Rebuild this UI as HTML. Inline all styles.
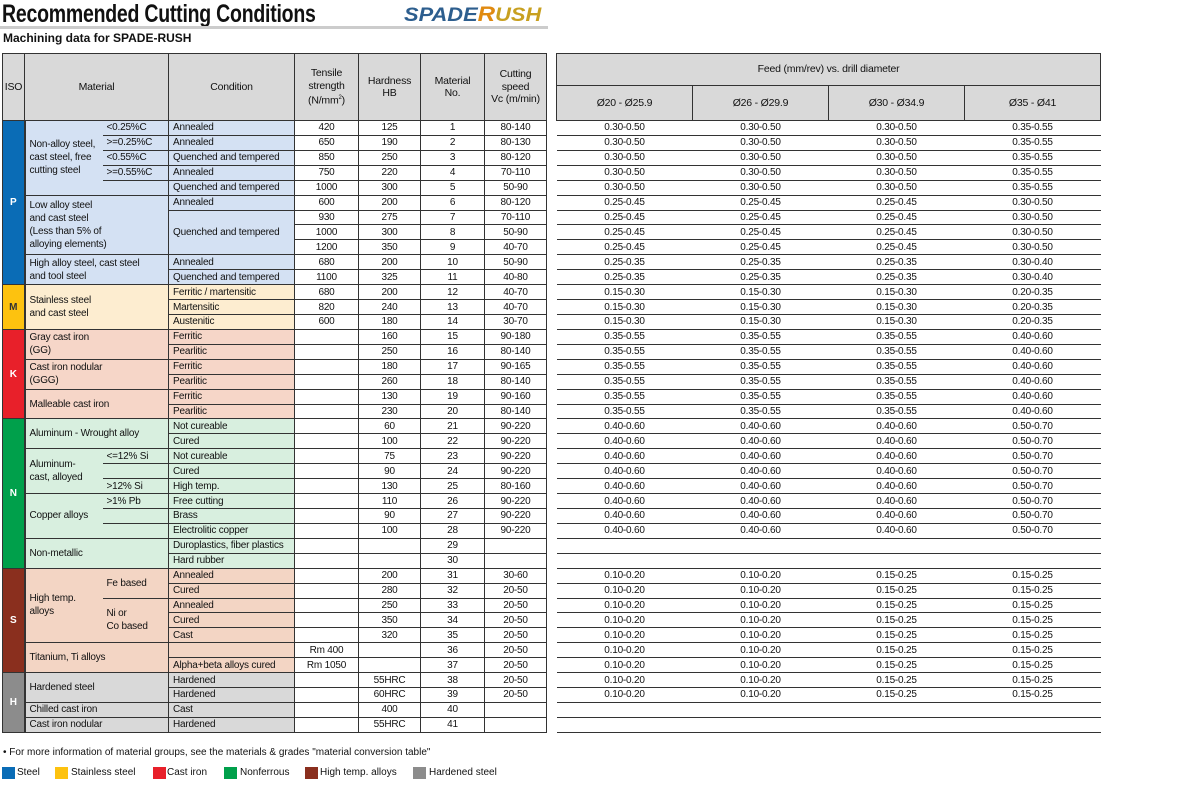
<!DOCTYPE html>
<html><head><meta charset="utf-8">
<style>
*{margin:0;padding:0;box-sizing:border-box}
body{width:1200px;height:800px;background:#fff;font-family:"Liberation Sans",Arial,sans-serif;color:#111;position:relative;overflow:hidden}
.title{position:absolute;left:2px;top:0px;font-size:25px;font-weight:bold;transform:scaleX(0.78);transform-origin:left top;white-space:nowrap;letter-spacing:-0.3px;color:#111}
.logo{position:absolute;left:404px;top:3px;font-size:19px;font-weight:bold;font-style:italic;white-space:nowrap;transform:scaleX(1.15);transform-origin:left top}
.tline{position:absolute;left:0;top:26px;width:548px;height:3px;background:#ccc}
.sub{position:absolute;left:3px;top:31px;font-size:12px;font-weight:bold}
table{position:absolute;border-collapse:collapse;table-layout:fixed;font-size:10px;letter-spacing:-0.2px}
td{padding:0;line-height:11px;border:1px solid #333;white-space:nowrap;overflow:hidden;height:14.93px}
thead td{background:#d9d9d9;text-align:center;vertical-align:middle;line-height:12.5px;font-size:10.5px}
.c{text-align:center}
.l{padding-left:4px}
.nr{border-right:none}
.nl{border-left:none}
.iso{color:#fff;font-weight:bold;text-align:center;border-right:2px solid #333}
.P{background:#d4e1f3}.M{background:#fdedd0}.K{background:#f6d6c8}.N{background:#d8efdf}.S{background:#f3d5c4}.H{background:#d9d9d9}
.wrap{line-height:13px}
#R td{border-left:none;border-right:none}
#R thead td{border-left:1px solid #333;border-right:1px solid #333}
.note{position:absolute;left:3px;top:747px;font-size:10px}
.leg{position:absolute;top:767px;font-size:10px;line-height:12px}
.sq{position:absolute;top:767px;width:13px;height:12px}
</style></head><body>
<div class="title">Recommended Cutting Conditions</div>
<div class="logo"><span style="color:#2d5e8e">SPADE</span><span style="color:#e08a10;font-size:21px">R</span><span style="color:#c8a020">USH</span></div>
<div class="tline"></div>
<div class="sub">Machining data for SPADE-RUSH</div>

<table style="left:2px;top:53px;width:544px">
<colgroup><col style="width:22px"><col style="width:78px"><col style="width:66px"><col style="width:126px"><col style="width:64px"><col style="width:62px"><col style="width:64px"><col style="width:62px"></colgroup>
<thead><tr style="height:67px"><td>ISO</td><td colspan="2">Material</td><td>Condition</td><td>Tensile<br>strength<br>(N/mm<sup style="font-size:6px">2</sup>)</td><td>Hardness<br>HB</td><td>Material<br>No.</td><td>Cutting<br>speed<br>Vc (m/min)</td></tr></thead>
<tbody>
<tr><td rowspan="11" class="iso" style="background:#0a6cb6">P</td><td rowspan="5" class="P l nr wrap">Non-alloy steel,<br>cast steel, free<br>cutting steel</td><td class="P nl l">&lt;0.25%C</td><td class="P l">Annealed</td><td class="c">420</td><td class="c">125</td><td class="c">1</td><td class="c">80-140</td></tr>
<tr><td class="P nl l">&gt;=0.25%C</td><td class="P l">Annealed</td><td class="c">650</td><td class="c">190</td><td class="c">2</td><td class="c">80-130</td></tr>
<tr><td class="P nl l">&lt;0.55%C</td><td class="P l">Quenched and tempered</td><td class="c">850</td><td class="c">250</td><td class="c">3</td><td class="c">80-120</td></tr>
<tr><td class="P nl l">&gt;=0.55%C</td><td class="P l">Annealed</td><td class="c">750</td><td class="c">220</td><td class="c">4</td><td class="c">70-110</td></tr>
<tr><td class="P nl l"></td><td class="P l">Quenched and tempered</td><td class="c">1000</td><td class="c">300</td><td class="c">5</td><td class="c">50-90</td></tr>
<tr><td rowspan="4" colspan="2" class="P l wrap">Low alloy steel<br>and cast steel<br>(Less than 5% of<br>alloying elements)</td><td class="P l">Annealed</td><td class="c">600</td><td class="c">200</td><td class="c">6</td><td class="c">80-120</td></tr>
<tr><td rowspan="3" class="P l">Quenched and tempered</td><td class="c">930</td><td class="c">275</td><td class="c">7</td><td class="c">70-110</td></tr>
<tr><td class="c">1000</td><td class="c">300</td><td class="c">8</td><td class="c">50-90</td></tr>
<tr><td class="c">1200</td><td class="c">350</td><td class="c">9</td><td class="c">40-70</td></tr>
<tr><td rowspan="2" colspan="2" class="P l wrap">High alloy steel, cast steel<br>and tool steel</td><td class="P l">Annealed</td><td class="c">680</td><td class="c">200</td><td class="c">10</td><td class="c">50-90</td></tr>
<tr><td class="P l">Quenched and tempered</td><td class="c">1100</td><td class="c">325</td><td class="c">11</td><td class="c">40-80</td></tr>
<tr><td rowspan="3" class="iso" style="background:#fdc20f;color:#333">M</td><td rowspan="3" colspan="2" class="M l wrap">Stainless steel<br>and cast steel</td><td class="M l">Ferritic / martensitic</td><td class="c">680</td><td class="c">200</td><td class="c">12</td><td class="c">40-70</td></tr>
<tr><td class="M l">Martensitic</td><td class="c">820</td><td class="c">240</td><td class="c">13</td><td class="c">40-70</td></tr>
<tr><td class="M l">Austenitic</td><td class="c">600</td><td class="c">180</td><td class="c">14</td><td class="c">30-70</td></tr>
<tr><td rowspan="6" class="iso" style="background:#e8202a">K</td><td rowspan="2" colspan="2" class="K l wrap">Gray cast iron<br>(GG)</td><td class="K l">Ferritic</td><td></td><td class="c">160</td><td class="c">15</td><td class="c">90-180</td></tr>
<tr><td class="K l">Pearlitic</td><td></td><td class="c">250</td><td class="c">16</td><td class="c">80-140</td></tr>
<tr><td rowspan="2" colspan="2" class="K l wrap">Cast iron nodular<br>(GGG)</td><td class="K l">Ferritic</td><td></td><td class="c">180</td><td class="c">17</td><td class="c">90-165</td></tr>
<tr><td class="K l">Pearlitic</td><td></td><td class="c">260</td><td class="c">18</td><td class="c">80-140</td></tr>
<tr><td rowspan="2" colspan="2" class="K l">Malleable cast iron</td><td class="K l">Ferritic</td><td></td><td class="c">130</td><td class="c">19</td><td class="c">90-160</td></tr>
<tr><td class="K l">Pearlitic</td><td></td><td class="c">230</td><td class="c">20</td><td class="c">80-140</td></tr>
<tr><td rowspan="10" class="iso" style="background:#00a04b">N</td><td rowspan="2" colspan="2" class="N l">Aluminum - Wrought alloy</td><td class="N l">Not cureable</td><td></td><td class="c">60</td><td class="c">21</td><td class="c">90-220</td></tr>
<tr><td class="N l">Cured</td><td></td><td class="c">100</td><td class="c">22</td><td class="c">90-220</td></tr>
<tr><td rowspan="3" class="N l nr wrap">Aluminum-<br>cast, alloyed</td><td class="N nl l">&lt;=12% Si</td><td class="N l">Not cureable</td><td></td><td class="c">75</td><td class="c">23</td><td class="c">90-220</td></tr>
<tr><td class="N nl l"></td><td class="N l">Cured</td><td></td><td class="c">90</td><td class="c">24</td><td class="c">90-220</td></tr>
<tr><td class="N nl l">&gt;12% Si</td><td class="N l">High temp.</td><td></td><td class="c">130</td><td class="c">25</td><td class="c">80-160</td></tr>
<tr><td rowspan="3" class="N l nr">Copper alloys</td><td class="N nl l">&gt;1% Pb</td><td class="N l">Free cutting</td><td></td><td class="c">110</td><td class="c">26</td><td class="c">90-220</td></tr>
<tr><td class="N nl l"></td><td class="N l">Brass</td><td></td><td class="c">90</td><td class="c">27</td><td class="c">90-220</td></tr>
<tr><td class="N nl l"></td><td class="N l">Electrolitic copper</td><td></td><td class="c">100</td><td class="c">28</td><td class="c">90-220</td></tr>
<tr><td rowspan="2" colspan="2" class="N l">Non-metallic</td><td class="N l">Duroplastics, fiber plastics</td><td></td><td></td><td class="c">29</td><td></td></tr>
<tr><td class="N l">Hard rubber</td><td></td><td></td><td class="c">30</td><td></td></tr>
<tr><td rowspan="7" class="iso" style="background:#8a2f1e">S</td><td rowspan="5" class="S l nr wrap">High temp.<br>alloys</td><td rowspan="2" class="S nl l">Fe based</td><td class="S l">Annealed</td><td></td><td class="c">200</td><td class="c">31</td><td class="c">30-60</td></tr>
<tr><td class="S l">Cured</td><td></td><td class="c">280</td><td class="c">32</td><td class="c">20-50</td></tr>
<tr><td rowspan="3" class="S nl l wrap">Ni or<br>Co based</td><td class="S l">Annealed</td><td></td><td class="c">250</td><td class="c">33</td><td class="c">20-50</td></tr>
<tr><td class="S l">Cured</td><td></td><td class="c">350</td><td class="c">34</td><td class="c">20-50</td></tr>
<tr><td class="S l">Cast</td><td></td><td class="c">320</td><td class="c">35</td><td class="c">20-50</td></tr>
<tr><td rowspan="2" colspan="2" class="S l">Titanium, Ti alloys</td><td class="S l"></td><td class="c">Rm 400</td><td></td><td class="c">36</td><td class="c">20-50</td></tr>
<tr><td class="S l">Alpha+beta alloys cured</td><td class="c">Rm 1050</td><td></td><td class="c">37</td><td class="c">20-50</td></tr>
<tr><td rowspan="4" class="iso" style="background:#8c8c8c">H</td><td rowspan="2" colspan="2" class="H l">Hardened steel</td><td class="H l">Hardened</td><td></td><td class="c">55HRC</td><td class="c">38</td><td class="c">20-50</td></tr>
<tr><td class="H l">Hardened</td><td></td><td class="c">60HRC</td><td class="c">39</td><td class="c">20-50</td></tr>
<tr><td colspan="2" class="H l">Chilled cast iron</td><td class="H l">Cast</td><td></td><td class="c">400</td><td class="c">40</td><td></td></tr>
<tr><td colspan="2" class="H l">Cast iron nodular</td><td class="H l">Hardened</td><td></td><td class="c">55HRC</td><td class="c">41</td><td></td></tr>
</tbody></table>

<table id="R" style="left:556px;top:53px;width:544px">
<colgroup><col style="width:136px"><col style="width:136px"><col style="width:136px"><col style="width:136px"></colgroup>
<thead><tr style="height:32px"><td colspan="4">Feed (mm/rev) vs. drill diameter</td></tr>
<tr style="height:35px"><td>Ø20 - Ø25.9</td><td>Ø26 - Ø29.9</td><td>Ø30 - Ø34.9</td><td>Ø35 - Ø41</td></tr></thead>
<tbody class="c">
<tr><td>0.30-0.50</td><td>0.30-0.50</td><td>0.30-0.50</td><td>0.35-0.55</td></tr>
<tr><td>0.30-0.50</td><td>0.30-0.50</td><td>0.30-0.50</td><td>0.35-0.55</td></tr>
<tr><td>0.30-0.50</td><td>0.30-0.50</td><td>0.30-0.50</td><td>0.35-0.55</td></tr>
<tr><td>0.30-0.50</td><td>0.30-0.50</td><td>0.30-0.50</td><td>0.35-0.55</td></tr>
<tr><td>0.30-0.50</td><td>0.30-0.50</td><td>0.30-0.50</td><td>0.35-0.55</td></tr>
<tr><td>0.25-0.45</td><td>0.25-0.45</td><td>0.25-0.45</td><td>0.30-0.50</td></tr>
<tr><td>0.25-0.45</td><td>0.25-0.45</td><td>0.25-0.45</td><td>0.30-0.50</td></tr>
<tr><td>0.25-0.45</td><td>0.25-0.45</td><td>0.25-0.45</td><td>0.30-0.50</td></tr>
<tr><td>0.25-0.45</td><td>0.25-0.45</td><td>0.25-0.45</td><td>0.30-0.50</td></tr>
<tr><td>0.25-0.35</td><td>0.25-0.35</td><td>0.25-0.35</td><td>0.30-0.40</td></tr>
<tr><td>0.25-0.35</td><td>0.25-0.35</td><td>0.25-0.35</td><td>0.30-0.40</td></tr>
<tr><td>0.15-0.30</td><td>0.15-0.30</td><td>0.15-0.30</td><td>0.20-0.35</td></tr>
<tr><td>0.15-0.30</td><td>0.15-0.30</td><td>0.15-0.30</td><td>0.20-0.35</td></tr>
<tr><td>0.15-0.30</td><td>0.15-0.30</td><td>0.15-0.30</td><td>0.20-0.35</td></tr>
<tr><td>0.35-0.55</td><td>0.35-0.55</td><td>0.35-0.55</td><td>0.40-0.60</td></tr>
<tr><td>0.35-0.55</td><td>0.35-0.55</td><td>0.35-0.55</td><td>0.40-0.60</td></tr>
<tr><td>0.35-0.55</td><td>0.35-0.55</td><td>0.35-0.55</td><td>0.40-0.60</td></tr>
<tr><td>0.35-0.55</td><td>0.35-0.55</td><td>0.35-0.55</td><td>0.40-0.60</td></tr>
<tr><td>0.35-0.55</td><td>0.35-0.55</td><td>0.35-0.55</td><td>0.40-0.60</td></tr>
<tr><td>0.35-0.55</td><td>0.35-0.55</td><td>0.35-0.55</td><td>0.40-0.60</td></tr>
<tr><td>0.40-0.60</td><td>0.40-0.60</td><td>0.40-0.60</td><td>0.50-0.70</td></tr>
<tr><td>0.40-0.60</td><td>0.40-0.60</td><td>0.40-0.60</td><td>0.50-0.70</td></tr>
<tr><td>0.40-0.60</td><td>0.40-0.60</td><td>0.40-0.60</td><td>0.50-0.70</td></tr>
<tr><td>0.40-0.60</td><td>0.40-0.60</td><td>0.40-0.60</td><td>0.50-0.70</td></tr>
<tr><td>0.40-0.60</td><td>0.40-0.60</td><td>0.40-0.60</td><td>0.50-0.70</td></tr>
<tr><td>0.40-0.60</td><td>0.40-0.60</td><td>0.40-0.60</td><td>0.50-0.70</td></tr>
<tr><td>0.40-0.60</td><td>0.40-0.60</td><td>0.40-0.60</td><td>0.50-0.70</td></tr>
<tr><td>0.40-0.60</td><td>0.40-0.60</td><td>0.40-0.60</td><td>0.50-0.70</td></tr>
<tr><td></td><td></td><td></td><td></td></tr>
<tr><td></td><td></td><td></td><td></td></tr>
<tr><td>0.10-0.20</td><td>0.10-0.20</td><td>0.15-0.25</td><td>0.15-0.25</td></tr>
<tr><td>0.10-0.20</td><td>0.10-0.20</td><td>0.15-0.25</td><td>0.15-0.25</td></tr>
<tr><td>0.10-0.20</td><td>0.10-0.20</td><td>0.15-0.25</td><td>0.15-0.25</td></tr>
<tr><td>0.10-0.20</td><td>0.10-0.20</td><td>0.15-0.25</td><td>0.15-0.25</td></tr>
<tr><td>0.10-0.20</td><td>0.10-0.20</td><td>0.15-0.25</td><td>0.15-0.25</td></tr>
<tr><td>0.10-0.20</td><td>0.10-0.20</td><td>0.15-0.25</td><td>0.15-0.25</td></tr>
<tr><td>0.10-0.20</td><td>0.10-0.20</td><td>0.15-0.25</td><td>0.15-0.25</td></tr>
<tr><td>0.10-0.20</td><td>0.10-0.20</td><td>0.15-0.25</td><td>0.15-0.25</td></tr>
<tr><td>0.10-0.20</td><td>0.10-0.20</td><td>0.15-0.25</td><td>0.15-0.25</td></tr>
<tr><td></td><td></td><td></td><td></td></tr>
<tr><td></td><td></td><td></td><td></td></tr>
</tbody></table>

<div class="note">• For more information of material groups, see the materials &amp; grades "material conversion table"</div>
<div class="sq" style="left:2px;background:#0a6cb6"></div><div class="leg" style="left:17px">Steel</div>
<div class="sq" style="left:55px;background:#fdc20f"></div><div class="leg" style="left:71px">Stainless steel</div>
<div class="sq" style="left:153px;background:#e8202a"></div><div class="leg" style="left:167px">Cast iron</div>
<div class="sq" style="left:224px;background:#00a04b"></div><div class="leg" style="left:240px">Nonferrous</div>
<div class="sq" style="left:305px;background:#8a2f1e"></div><div class="leg" style="left:320px">High temp. alloys</div>
<div class="sq" style="left:413px;background:#8c8c8c"></div><div class="leg" style="left:429px">Hardened steel</div>
</body></html>
